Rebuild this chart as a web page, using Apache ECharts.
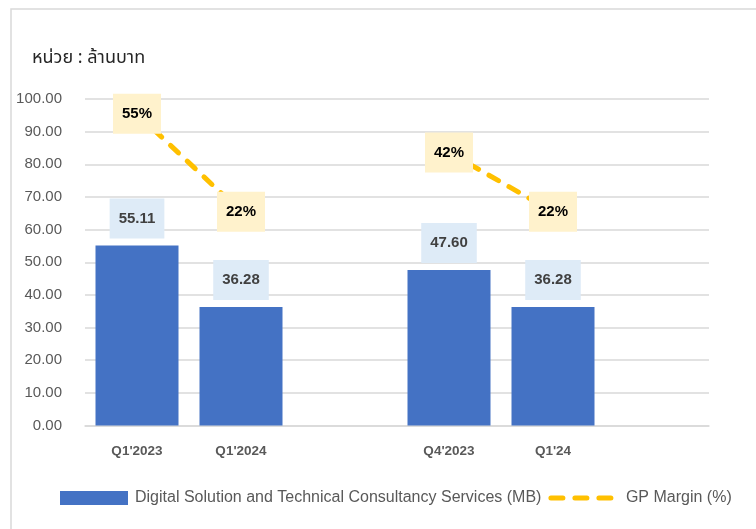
<!DOCTYPE html>
<html>
<head>
<meta charset="utf-8">
<script src="https://cdn.jsdelivr.net/npm/echarts@6/dist/echarts.min.js"></script>
<style>
  html, body { margin: 0; padding: 0; background: #fff; }
  #chart { width: 756px; height: 529px; }
</style>
</head>
<body>
<div id="chart"></div>
<script>
  const categories = ["Q1'2023", "Q1'2024", '', "Q4'2023", "Q1'24", ''];
  const revenue = [55.11, 36.28, null, 47.6, 36.28, null];
  const gpMargin = [55, 22, null, 42, 22, null];
  const seriesNames = ['Digital Solution and Technical Consultancy Services (MB)', 'GP Margin (%)'];
  const unitLabel = 'หน่วย : ล้านบาท';

  const font = 'Arial, "Liberation Sans", sans-serif';
  const thaiFont = '"Noto Sans Thai", "Noto Sans Thai UI", Tahoma, Loma, Garuda, "Noto Sans", sans-serif';
  const myChart = echarts.init(document.getElementById('chart'));

  function setOption() {
    const options = {
      animation: false,
      graphic: [
        {
          type: 'rect',
          shape: { x: 11, y: 9, width: 800, height: 600 },
          style: { fill: 'none', stroke: '#d9d9d9', lineWidth: 1.5 },
          silent: true,
        },
        {
          type: 'text',
          left: 32,
          top: 50,
          style: { text: unitLabel, fontSize: 18, fill: '#262626', fontFamily: thaiFont },
        },
      ],
      legend: {
        left: 55,
        top: 485,
        itemWidth: 68,
        itemHeight: 14,
        itemGap: 7,
        textStyle: { color: '#595959', fontSize: 16, fontFamily: font, padding: [0, 0, 0, 2] },
        data: [
          { name: seriesNames[0], icon: 'rect' },
          { name: seriesNames[1], itemStyle: { opacity: 0 } },
        ],
        lineStyle: { width: 5, type: [12, 12], cap: 'round' },
      },
      grid: { left: 85, right: 47, top: 99, bottom: 103.5 },
      xAxis: {
        type: 'category',
        data: categories,
        axisTick: { show: false },
        axisLine: { lineStyle: { color: '#d9d9d9', width: 1.5 } },
        axisLabel: {
          color: '#595959',
          fontWeight: 'bold',
          fontSize: 13.5,
          fontFamily: font,
          margin: 19,
          interval: 0,
        },
      },
      yAxis: [
        {
          type: 'value',
          min: 0,
          max: 100,
          interval: 10,
          axisLine: { show: false },
          axisTick: { show: false },
          axisLabel: {
            color: '#595959',
            fontSize: 15,
            fontFamily: font,
            margin: 23,
            formatter: (v) => v.toFixed(2),
          },
          splitLine: { lineStyle: { color: '#d9d9d9', width: 1.5 } },
        },
        {
          // hidden axis for the margin line
          type: 'value',
          min: -50,
          max: 60,
          show: false,
          splitLine: { show: false },
        },
      ],
      series: [
        {
          name: seriesNames[0],
          type: 'bar',
          data: revenue,
          barWidth: 83,
          itemStyle: { color: '#4472C4' },
          label: {
            show: true,
            position: 'top',
            distance: 7,
            formatter: (p) => p.value.toFixed(2),
            backgroundColor: '#DEEBF7',
            padding: [11, 9],
            lineHeight: 18,
            color: '#404040',
            fontWeight: 'bold',
            fontSize: 15,
            fontFamily: font,
          },
        },
        {
          name: seriesNames[1],
          type: 'line',
          yAxisIndex: 1,
          data: gpMargin,
          connectNulls: false,
          symbol: 'circle',
          symbolSize: 2,
          itemStyle: { color: '#FFC000' },
          lineStyle: { color: '#FFC000', width: 5, type: [11, 12], cap: 'round' },
          label: {
            show: true,
            position: 'inside',
            formatter: (p) => p.value + '%',
            backgroundColor: '#FFF2CC',
            padding: [11, 9],
            lineHeight: 18,
            color: '#000',
            fontWeight: 'bold',
            fontSize: 15,
            fontFamily: font,
          },
          z: 3,
        },
      ],
    };
    myChart.setOption(options);
  }

  setOption();
</script>
</body>
</html>
